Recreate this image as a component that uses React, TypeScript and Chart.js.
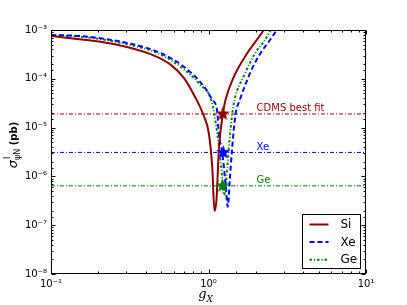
import React, { useEffect, useRef } from 'react';
import { Chart, registerables } from 'chart.js';

Chart.register(...registerables);

// ---- data ----
const seriesNames = ['Si', 'Xe', 'Ge'];

const siG = [0.1, 0.1615, 0.263, 0.428, 0.574, 0.697, 0.807, 0.934, 1.004, 1.056, 1.092, 1.124, 1.163, 1.233, 1.282, 1.447, 1.761, 2.244, 2.404];
const siSigma = [7.53e-4, 6.33e-4, 5.0e-4, 3.2e-4, 1.95e-4, 1.04e-4, 4.72e-5, 1.73e-5, 7.75e-6, 1.58e-6, 1.95e-7, 3.28e-7, 3.48e-6, 1.9e-5, 3.68e-5, 1.1e-4, 3.33e-4, 1.0e-3, 1.46e-3];

const xeG = [0.1, 0.161, 0.32, 0.496, 0.694, 0.934, 1.056, 1.136, 1.163, 1.222, 1.282, 1.326, 1.365, 1.41, 1.484, 1.58, 1.803, 1.895, 2.138, 2.476, 2.664, 2.865];
const xeSigma = [7.9e-4, 7.43e-4, 5.24e-4, 3.38e-4, 1.79e-4, 7.02e-5, 3.73e-5, 2.16e-5, 7.64e-6, 3.12e-6, 7.2e-7, 2.39e-7, 8.4e-7, 3.48e-6, 1.84e-5, 3.68e-5, 1.14e-4, 1.64e-4, 3.33e-4, 6.45e-4, 9.2e-4, 1.46e-3];

const geG = [0.1, 0.161, 0.32, 0.496, 0.694, 0.889, 1.04, 1.136, 1.204, 1.254, 1.314, 1.359, 1.414, 1.462, 1.676, 1.848, 2.038, 2.244, 2.415, 2.587];
const geSigma = [7.8e-4, 7.19e-4, 4.93e-4, 3.15e-4, 1.59e-4, 7.46e-5, 3.68e-5, 7.75e-6, 1.58e-6, 4.16e-7, 1.35e-6, 5.57e-6, 1.84e-5, 3.68e-5, 1.14e-4, 2.24e-4, 3.89e-4, 5.76e-4, 8.56e-4, 1.33e-3];

const refNames = ['CDMS best fit', 'Xe', 'Ge'];
const refSigma = [1.9e-5, 3.1e-6, 6.4e-7];
const starG = [1.233, 1.24, 1.227];
const refLabelG = 2.02;

const xRange = [0.1, 10];
const yRange = [1e-8, 1e-3];

const COLORS = ['#8b0000', '#0000ff', '#008000'];
const CURVE_DASH: number[][] = [[], [5, 3], [2.5, 2, 1, 2]];
const REF_DASH = [4, 2, 1, 2];

const SUP: Record<string, string> = { '-': '⁻', '0': '⁰', '1': '¹', '2': '²', '3': '³', '4': '⁴', '5': '⁵', '6': '⁶', '7': '⁷', '8': '⁸', '9': '⁹' };

function isMajor(v: number) {
  const l = Math.log10(v);
  return Math.abs(l - Math.round(l)) < 1e-6;
}
function fmt(v: number) {
  if (!isMajor(v)) return '';
  const e = Math.round(Math.log10(v));
  return '10' + String(e).split('').map((c) => SUP[c]).join('');
}

function makeStar(color: string, R = 7.5) {
  const c = document.createElement('canvas');
  const s = Math.ceil(R * 2 + 2);
  c.width = s;
  c.height = s;
  const ctx = c.getContext('2d')!;
  const cx = s / 2;
  const cy = s / 2;
  ctx.beginPath();
  for (let k = 0; k < 10; k++) {
    const r = k % 2 === 0 ? R : R * 0.42;
    const a = -Math.PI / 2 + (k * Math.PI) / 5;
    const px = cx + r * Math.cos(a);
    const py = cy + r * Math.sin(a);
    if (k) ctx.lineTo(px, py);
    else ctx.moveTo(px, py);
  }
  ctx.closePath();
  ctx.fillStyle = color;
  ctx.fill();
  return c;
}

const decor = {
  id: 'decor',
  afterDatasetsDraw(chart: any) {
    const { ctx, chartArea: a, scales } = chart;
    const xs = scales.x;
    const ys = scales.y;
    ctx.save();
    // reference labels
    ctx.font = '10px "DejaVu Sans"';
    ctx.textAlign = 'left';
    ctx.textBaseline = 'alphabetic';
    refNames.forEach((n, i) => {
      ctx.fillStyle = COLORS[i];
      ctx.fillText(n, xs.getPixelForValue(refLabelG), ys.getPixelForValue(refSigma[i]) - 2.5);
    });
    // frame
    ctx.strokeStyle = '#000';
    ctx.lineWidth = 1;
    ctx.setLineDash([]);
    const L = Math.round(a.left) + 0.5;
    const R = Math.round(a.right) - 0.5;
    const T = Math.round(a.top) + 0.5;
    const B = Math.round(a.bottom) - 0.5;
    ctx.strokeRect(L, T, R - L, B - T);
    ctx.beginPath();
    xs.ticks.forEach((t: any) => {
      const p = Math.round(xs.getPixelForValue(t.value)) + 0.5;
      const len = isMajor(t.value) ? 4 : 2;
      ctx.moveTo(p, B);
      ctx.lineTo(p, B - len);
      ctx.moveTo(p, T);
      ctx.lineTo(p, T + len);
    });
    ys.ticks.forEach((t: any) => {
      const p = Math.round(ys.getPixelForValue(t.value)) + 0.5;
      const len = isMajor(t.value) ? 4 : 2;
      ctx.moveTo(L, p);
      ctx.lineTo(L + len, p);
      ctx.moveTo(R, p);
      ctx.lineTo(R - len, p);
    });
    ctx.stroke();

    // legend
    const lx = 302.5, ly = 214.5, lw = 58, lh = 54;
    ctx.fillStyle = '#fff';
    ctx.fillRect(lx, ly, lw, lh);
    ctx.strokeStyle = '#000';
    ctx.strokeRect(lx, ly, lw, lh);
    seriesNames.forEach((n, i) => {
      const y = ly + 10 + i * 17.6;
      ctx.beginPath();
      ctx.setLineDash(CURVE_DASH[i]);
      ctx.strokeStyle = COLORS[i];
      ctx.lineWidth = 2;
      ctx.moveTo(lx + 7, y);
      ctx.lineTo(lx + 26, y);
      ctx.stroke();
      ctx.setLineDash([]);
      ctx.fillStyle = '#000';
      ctx.font = '12px "DejaVu Sans"';
      ctx.textBaseline = 'middle';
      ctx.fillText(n, lx + 38, y + 0.5);
    });

    // x title
    ctx.fillStyle = '#000';
    ctx.textBaseline = 'alphabetic';
    ctx.font = 'italic 13px "DejaVu Serif"';
    const gw = ctx.measureText('g').width;
    ctx.font = 'italic 9px "DejaVu Serif"';
    const xw = ctx.measureText('X').width;
    const cx = (a.left + a.right) / 2 - (gw + xw) / 2 - 3;
    ctx.font = 'italic 13px "DejaVu Serif"';
    ctx.fillText('g', cx, 298);
    ctx.font = 'italic 9px "DejaVu Serif"';
    ctx.fillText('X', cx + gw, 302);

    // y title
    ctx.translate(17, 145);
    ctx.rotate(-Math.PI / 2);
    ctx.font = 'italic 13px "DejaVu Sans"';
    const sw = ctx.measureText('σ').width;
    ctx.font = '8px "DejaVu Sans"';
    const subw = ctx.measureText('ψN').width;
    ctx.font = 'bold 10px "DejaVu Sans"';
    const pw = ctx.measureText(' (pb)').width;
    let x0 = -(sw + subw + pw) / 2;
    ctx.font = 'italic 13px "DejaVu Sans"';
    ctx.fillText('σ', x0, 0);
    x0 += sw;
    ctx.font = '8px "DejaVu Sans"';
    ctx.fillText('I', x0 + 1, -7);
    ctx.fillText('ψN', x0, 3);
    x0 += subw;
    ctx.font = 'bold 10px "DejaVu Sans"';
    ctx.fillText(' (pb)', x0, 0);
    ctx.restore();
  },
};

export default function App() {
  const ref = useRef<HTMLCanvasElement>(null);
  useEffect(() => {
    const canvas = ref.current!;
    const pts = (gs: number[], ss: number[]) => gs.map((g, i) => ({ x: g, y: ss[i] }));
    const datasets: any[] = [];
    COLORS.forEach((c, i) => {
      datasets.push({
        label: 'star ' + seriesNames[i],
        data: [{ x: starG[i], y: refSigma[i] }],
        showLine: false,
        pointStyle: makeStar(c),
        pointRadius: 7,
        borderColor: c,
        backgroundColor: c,
      });
    });
    const curves = [pts(siG, siSigma), pts(xeG, xeSigma), pts(geG, geSigma)];
    curves.forEach((d, i) => {
      datasets.push({
        label: seriesNames[i],
        data: d,
        borderColor: COLORS[i],
        borderWidth: 2,
        borderDash: CURVE_DASH[i],
        pointRadius: 0,
        fill: false,
        cubicInterpolationMode: 'monotone',
      });
    });
    refSigma.forEach((s, i) => {
      datasets.push({
        label: refNames[i],
        data: [{ x: xRange[0], y: s }, { x: xRange[1], y: s }],
        borderColor: COLORS[i],
        borderWidth: 1,
        borderDash: REF_DASH,
        pointRadius: 0,
        fill: false,
      });
    });
    const chart = new Chart(canvas, {
      type: 'line',
      data: { datasets },
      options: {
        responsive: false,
        animation: false,
        events: [],
        layout: { padding: { top: 30, right: 41, left: 0, bottom: 0 } },
        plugins: { legend: { display: false }, tooltip: { enabled: false } },
        scales: {
          x: {
            type: 'logarithmic',
            min: xRange[0],
            max: xRange[1],
            grid: { display: false, drawTicks: false },
            border: { display: false },
            ticks: {
              autoSkip: false,
              maxRotation: 0,
              minRotation: 0,
              padding: 4,
              color: '#000',
              font: { family: 'DejaVu Sans', size: 10 },
              callback: (v: any) => fmt(Number(v)),
            },
            afterFit: (s: any) => {
              s.height = 31;
            },
          },
          y: {
            type: 'logarithmic',
            min: yRange[0],
            max: yRange[1],
            grid: { display: false, drawTicks: false },
            border: { display: false },
            ticks: {
              autoSkip: false,
              padding: 4,
              color: '#000',
              font: { family: 'DejaVu Sans', size: 10 },
              callback: (v: any) => fmt(Number(v)),
            },
            afterFit: (s: any) => {
              s.width = 51;
            },
          },
        },
      } as any,
      plugins: [decor],
    });
    return () => chart.destroy();
  }, []);
  return (
    <div style={{ position: 'absolute', left: 0, top: 0, width: 407, height: 305, background: '#fff' }}>
      <canvas ref={ref} width={407} height={305} style={{ display: 'block' }} />
    </div>
  );
}
